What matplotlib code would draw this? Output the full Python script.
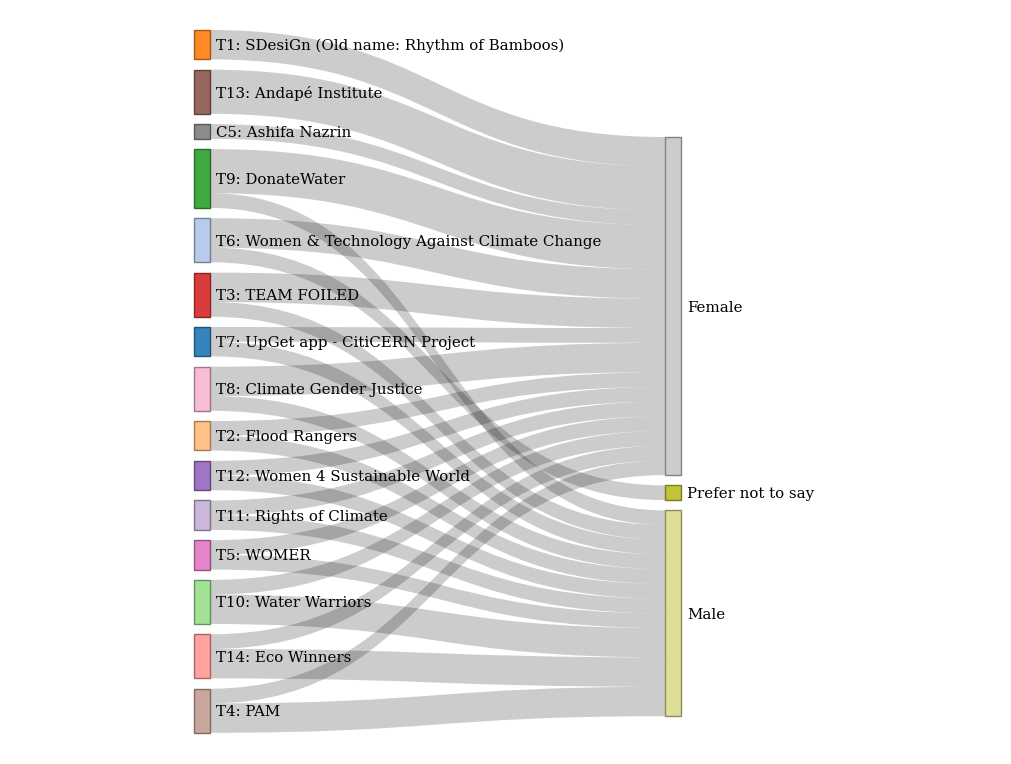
"""Sankey of team members by gender, drawn with plain matplotlib patches."""

import matplotlib.pyplot as plt
from matplotlib.colors import to_rgb
from matplotlib.patches import PathPatch, Rectangle
from matplotlib.path import Path

# source nodes (teams), top to bottom
teams = [
    "T1: SDesiGn (Old name: Rhythm of Bamboos)",
    "T13: Andapé Institute",
    "C5: Ashifa Nazrin",
    "T9: DonateWater",
    "T6: Women & Technology Against Climate Change",
    "T3: TEAM FOILED",
    "T7: UpGet app - CitiCERN Project",
    "T8: Climate Gender Justice",
    "T2: Flood Rangers",
    "T12: Women 4 Sustainable World",
    "T11: Rights of Climate",
    "T5: WOMER",
    "T10: Water Warriors",
    "T14: Eco Winners",
    "T4: PAM",
]
team_colors = [
    "#ff7f0e", "#8c564b", "#7f7f7f", "#2ca02c", "#aec7e8", "#d62728", "#1f77b4",
    "#f7b6d2", "#ffbb78", "#9467bd", "#c5b0d5", "#e377c2", "#98df8a", "#ff9896",
    "#c49c94",
]

# target nodes
genders = ["Female", "Prefer not to say", "Male"]
gender_colors = ["#c7c7c7", "#bcbd22", "#dbdb8d"]

# members per team and gender (same order as teams)
female = [2, 3, 1, 3, 2, 2, 1, 2, 1, 1, 1, 1, 1, 1, 1]
prefer_not = [0, 0, 0, 0, 1, 0, 0, 0, 0, 0, 0, 0, 0, 0, 0]
male = [0, 0, 0, 1, 0, 1, 1, 1, 1, 1, 1, 1, 2, 2, 2]

# layout, in pixels
W, H = 1012, 764
unit = 14.7
gap = 10.3
left_x, right_x, node_w = 194, 665, 16
left_top, right_top = 30, 137

flows = [female, prefer_not, male]
team_tot = [sum(f[i] for f in flows) for i in range(len(teams))]
gender_tot = [sum(f) for f in flows]

fig = plt.figure(figsize=(W / 100, H / 100), dpi=100)
ax = fig.add_axes([0, 0, 1, 1])
ax.set_xlim(0, W)
ax.set_ylim(H, 0)
ax.axis("off")

# node tops
team_y = []
y = left_top
for t in team_tot:
    team_y.append(y)
    y += t * unit + gap
gender_y = []
y = right_top
for t in gender_tot:
    gender_y.append(y)
    y += t * unit + gap

# links
x0, x1 = left_x + node_w, right_x
xm = (x0 + x1) / 2
for g, vals in enumerate(flows):
    tgt = gender_y[g]
    for i, v in enumerate(vals):
        if v == 0:
            continue
        h = v * unit
        s = team_y[i] + sum(flows[k][i] for k in range(g)) * unit
        verts = [(x0, s), (xm, s), (xm, tgt), (x1, tgt),
                 (x1, tgt + h), (xm, tgt + h), (xm, s + h), (x0, s + h), (x0, s)]
        codes = [Path.MOVETO, Path.CURVE4, Path.CURVE4, Path.CURVE4,
                 Path.LINETO, Path.CURVE4, Path.CURVE4, Path.CURVE4, Path.CLOSEPOLY]
        ax.add_patch(PathPatch(Path(verts, codes), facecolor=(0, 0, 0, 0.2),
                               edgecolor="none", zorder=1))
        tgt += h


def node(x, y0, n, color, label):
    r, gg, b = to_rgb(color)
    edge = (r * 0.6, gg * 0.6, b * 0.6)
    ax.add_patch(Rectangle((x, y0), node_w, n * unit, facecolor=color, alpha=0.9,
                           edgecolor=edge, lw=1, zorder=2))
    ax.text(x + node_w + 6, y0 + n * unit / 2 + 1.5, label, family="DejaVu Serif",
            fontsize=10.8, va="center", ha="left", color="black", zorder=3)


for i, name in enumerate(teams):
    node(left_x, team_y[i], team_tot[i], team_colors[i], name)
for g, name in enumerate(genders):
    node(right_x, gender_y[g], gender_tot[g], gender_colors[g], name)

fig.savefig("out.png", dpi=100)
